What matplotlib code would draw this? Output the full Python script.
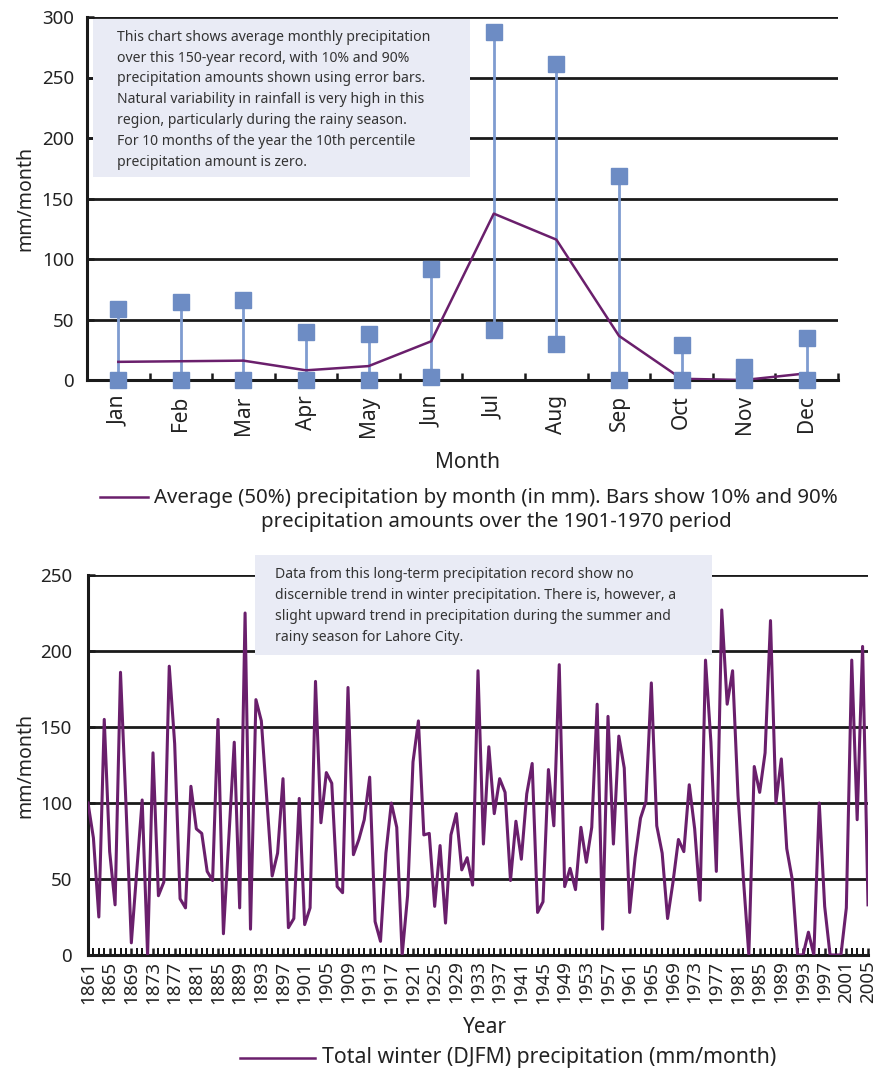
import matplotlib
matplotlib.use("Agg")
import matplotlib.pyplot as plt
from matplotlib.patches import Rectangle
from matplotlib.lines import Line2D
import numpy as np

plt.rcParams["font.family"] = ["Noto Sans", "DejaVu Sans"]

# --- monthly precipitation (mm/month) ---
months = ["Jan", "Feb", "Mar", "Apr", "May", "Jun",
          "Jul", "Aug", "Sep", "Oct", "Nov", "Dec"]
avg50 = [15, 15.5, 16, 8, 11.5, 32, 137.5, 116, 36.5, 1, 0, 5.5]
p10 = [0, 0, 0, 0, 0, 2.5, 41.5, 30, 0, 0, 0, 0]
p90 = [59, 64.5, 66, 39.5, 38, 92, 288, 261, 169, 29, 11, 34.5]

# --- winter (DJFM) precipitation, 1861-2005 ---
first_year = 1861
winter = [
    100, 77, 25, 155, 68, 33, 186, 100, 8, 55, 102, 0, 133, 39, 48, 190,
    139, 37, 31, 111, 83, 80, 55, 49, 155, 14, 77, 140, 31, 225, 17, 168,
    154, 103, 52, 67, 116, 18, 24, 103, 20, 31, 180, 87, 120, 113, 45, 41,
    176, 66, 76, 89, 117, 22, 9, 67, 100, 84, 0, 39, 127, 154, 79, 80,
    32, 72, 21, 79, 93, 56, 64, 46, 187, 73, 137, 93, 116, 107, 49, 88,
    63, 106, 126, 28, 35, 122, 85, 191, 45, 57, 43, 84, 61, 84, 165, 17,
    157, 73, 144, 123, 28, 64, 90, 101, 179, 85, 67, 24, 48, 76, 68,
    112, 83, 36, 194, 140, 55, 227, 165, 187, 105, 50, 0, 124, 107, 133, 220,
    100, 129, 70, 50, 0, 0, 15, 0, 100, 32, 0, 0, 0, 31, 194, 89, 203, 33,
]
years = np.arange(first_year, first_year + len(winter))

note_top = ("This chart shows average monthly precipitation\n"
            "over this 150-year record, with 10% and 90%\n"
            "precipitation amounts shown using error bars.\n"
            "Natural variability in rainfall is very high in this\n"
            "region, particularly during the rainy season.\n"
            "For 10 months of the year the 10th percentile\n"
            "precipitation amount is zero.")
note_bottom = ("Data from this long-term precipitation record show no\n"
               "discernible trend in winter precipitation. There is, however, a\n"
               "slight upward trend in precipitation during the summer and\n"
               "rainy season for Lahore City.")

PURPLE = "#6a1f6c"
BLUE = "#6d8cc4"
BAR = "#7f9cd0"
BOX = "#e9ebf5"
TXT = "#222222"
W, H = 876, 1071


def fx(px):
    return px / W


def fy(py):
    return 1 - py / H


def style_axes(ax, ypad):
    for s in ("top", "right"):
        ax.spines[s].set_visible(False)
    for s in ("left", "bottom"):
        ax.spines[s].set_linewidth(2.2)
        ax.spines[s].set_color("#1a1a1a")
    ax.grid(axis="y", color="#1a1a1a", lw=2.0, zorder=1)
    ax.set_axisbelow(True)
    ax.tick_params(direction="in", width=1.8, length=5, colors="#1a1a1a",
                   labelcolor=TXT)
    ax.tick_params(axis="y", labelsize=13.5, pad=ypad)


def main():
    fig = plt.figure(figsize=(W / 100, H / 100), dpi=100)

    # ---------- monthly chart ----------
    ax = fig.add_axes([fx(87), fy(380), fx(838 - 87), (380 - 17) / H])
    style_axes(ax, 9.4)
    x = np.arange(1, len(months) + 1)
    ax.vlines(x, p10, p90, color=BAR, lw=2.0, zorder=3)
    ax.plot(x, avg50, color=PURPLE, lw=1.8, zorder=4)
    ax.plot(x, p90, ls="none", marker="s", ms=11.5, color=BLUE, zorder=5)
    ax.plot(x, p10, ls="none", marker="s", ms=11.5, color=BLUE, zorder=5,
            clip_on=False)
    ax.set_xlim(0.5, 12.5)
    ax.set_ylim(0, 300)
    ax.set_yticks(range(0, 301, 50))
    ax.set_xticks(np.arange(0.5, 12.6, 1))
    ax.set_xticklabels([])
    ax.set_xticks(x, minor=True)
    ax.set_xticklabels(months, minor=True, rotation=90, fontsize=15,
                       color=TXT)
    ax.tick_params(axis="x", which="minor", length=0, pad=11)
    ax.set_ylabel("mm/month", fontsize=14, color=TXT)
    ax.yaxis.set_label_coords(-0.069, 0.5)
    ax.set_xlabel("Month", fontsize=15, color=TXT)
    ax.xaxis.set_label_coords(0.507, -0.197)
    ax.add_patch(Rectangle((0.008, 0.559), 0.502, 0.436, transform=ax.transAxes,
                           facecolor=BOX, edgecolor="none", zorder=2))
    ax.text(0.04, 0.772, note_top, transform=ax.transAxes, ha="left",
            va="center", fontsize=10.1, linespacing=1.53, color="#333", zorder=6)

    # legend, drawn by hand below the axis title
    fig.add_artist(Line2D([fx(100), fx(148)], [fy(497), fy(497)],
                          color=PURPLE, lw=1.8))
    fig.text(fx(496), fy(510),
             "Average (50%) precipitation by month (in mm). Bars show 10% and 90%\n"
             "precipitation amounts over the 1901-1970 period",
             ha="center", va="center", multialignment="center", fontsize=14.7,
             linespacing=1.3, color=TXT)

    # ---------- winter time series ----------
    bx = fig.add_axes([fx(88), fy(955), fx(868 - 88), (955 - 575) / H])
    style_axes(bx, 11.5)
    bx.plot(years, winter, color=PURPLE, lw=2.2, zorder=4)
    bx.set_xlim(years[0], years[-1])
    bx.set_ylim(0, 250)
    bx.set_yticks(range(0, 251, 50))
    bx.set_xticks(years[::4])
    bx.set_xticklabels([str(y) for y in years[::4]], rotation=90, fontsize=13.5,
                       color=TXT)
    bx.set_xticks(years, minor=True)
    bx.tick_params(axis="x", which="minor", direction="in", length=5, width=1.3)
    bx.tick_params(axis="x", which="major", pad=4)
    bx.set_ylabel("mm/month", fontsize=14, color=TXT)
    bx.yaxis.set_label_coords(-0.068, 0.5)
    bx.set_xlabel("Year", fontsize=15, color=TXT)
    bx.xaxis.set_label_coords(0.509, -0.163)
    bx.add_patch(Rectangle((0.214, 0.789), 0.586, 0.264, transform=bx.transAxes,
                           facecolor=BOX, edgecolor="none", zorder=2,
                           clip_on=False))
    bx.text(0.240, 0.918, note_bottom, transform=bx.transAxes, ha="left",
            va="center", fontsize=10.1, linespacing=1.55, color="#333", zorder=6)

    fig.add_artist(Line2D([fx(240), fx(315)], [fy(1058), fy(1058)],
                          color=PURPLE, lw=1.8))
    fig.text(fx(322), fy(1058), "Total winter (DJFM) precipitation (mm/month)",
             ha="left", va="center", fontsize=15.3, color=TXT)

    fig.savefig("out.png", dpi=100, facecolor="white")


if __name__ == "__main__":
    main()
